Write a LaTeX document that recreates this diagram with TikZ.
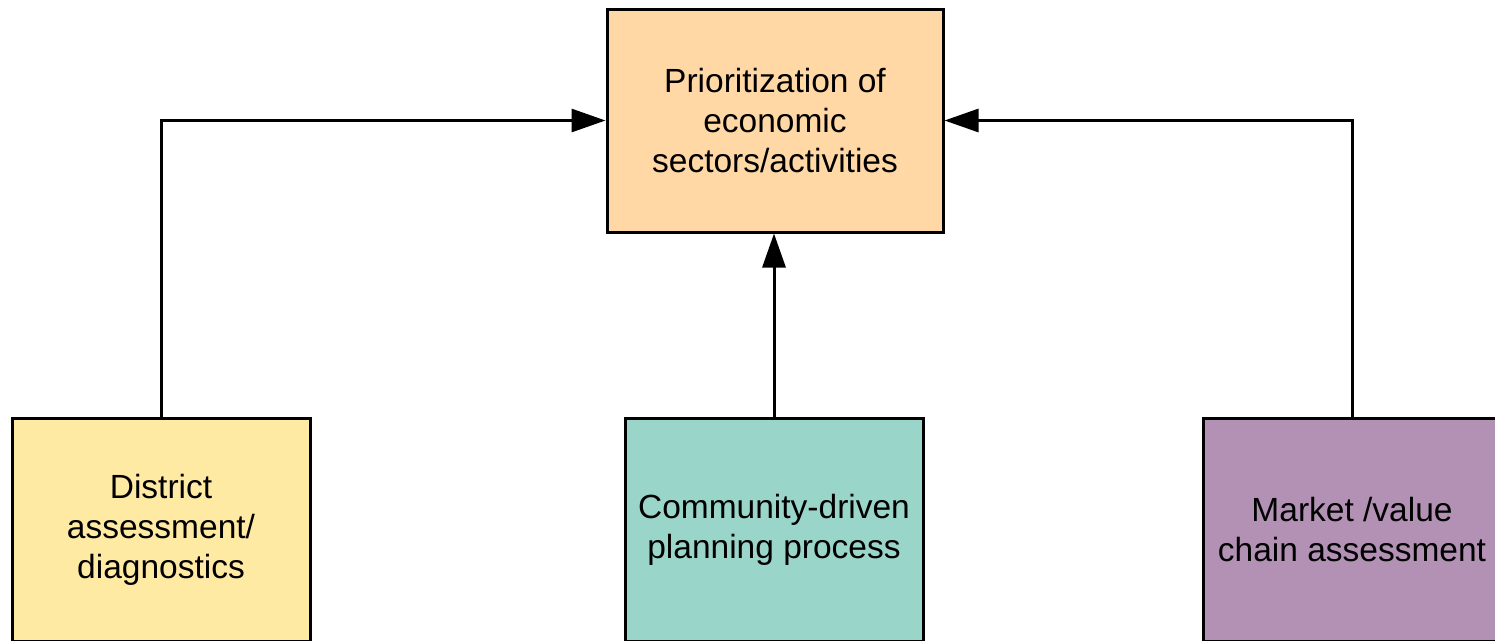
\documentclass[tikz,border=0pt]{standalone}
\usepackage{fontspec}
\setmainfont{Liberation Sans}
\usetikzlibrary{arrows.meta}
\definecolor{peach}{HTML}{FFD8A6}
\definecolor{sand}{HTML}{FFEAA4}
\definecolor{teal}{HTML}{9AD5CA}
\definecolor{mauve}{HTML}{B391B5}
\tikzset{
  box/.style={draw=black, line width=3pt, inner sep=0pt, align=center,
    font=\fontsize{33.5}{40}\selectfont},
  conn/.style={line width=3pt, -{Triangle[length=34pt,width=23pt]}}
}
\begin{document}
\begin{tikzpicture}[x=1pt,y=-1pt]
\useasboundingbox (0,0) rectangle (1495,640);
\node[box, fill=peach, minimum width=336pt, minimum height=223pt] (top) at (775,120.5)
  {Prioritization of\\economic\\sectors/activities};
\node[box, fill=sand, minimum width=298pt, minimum height=223pt] (left) at (161,529.5)
  {District\\assessment/\\diagnostics};
\node[box, fill=teal, minimum width=298pt, minimum height=223pt] (mid) at (774,529.5)
  {Community-driven\\planning process};
\node[box, fill=mauve, minimum width=298pt, minimum height=223pt] (right) at (1352,529.5)
  {Market /value\\chain assessment};
\draw[conn] (left.north) |- (top.west);
\draw[conn] (mid.north) -- (mid.north |- top.south);
\draw[conn] (right.north) |- (top.east);
\end{tikzpicture}
\end{document}
